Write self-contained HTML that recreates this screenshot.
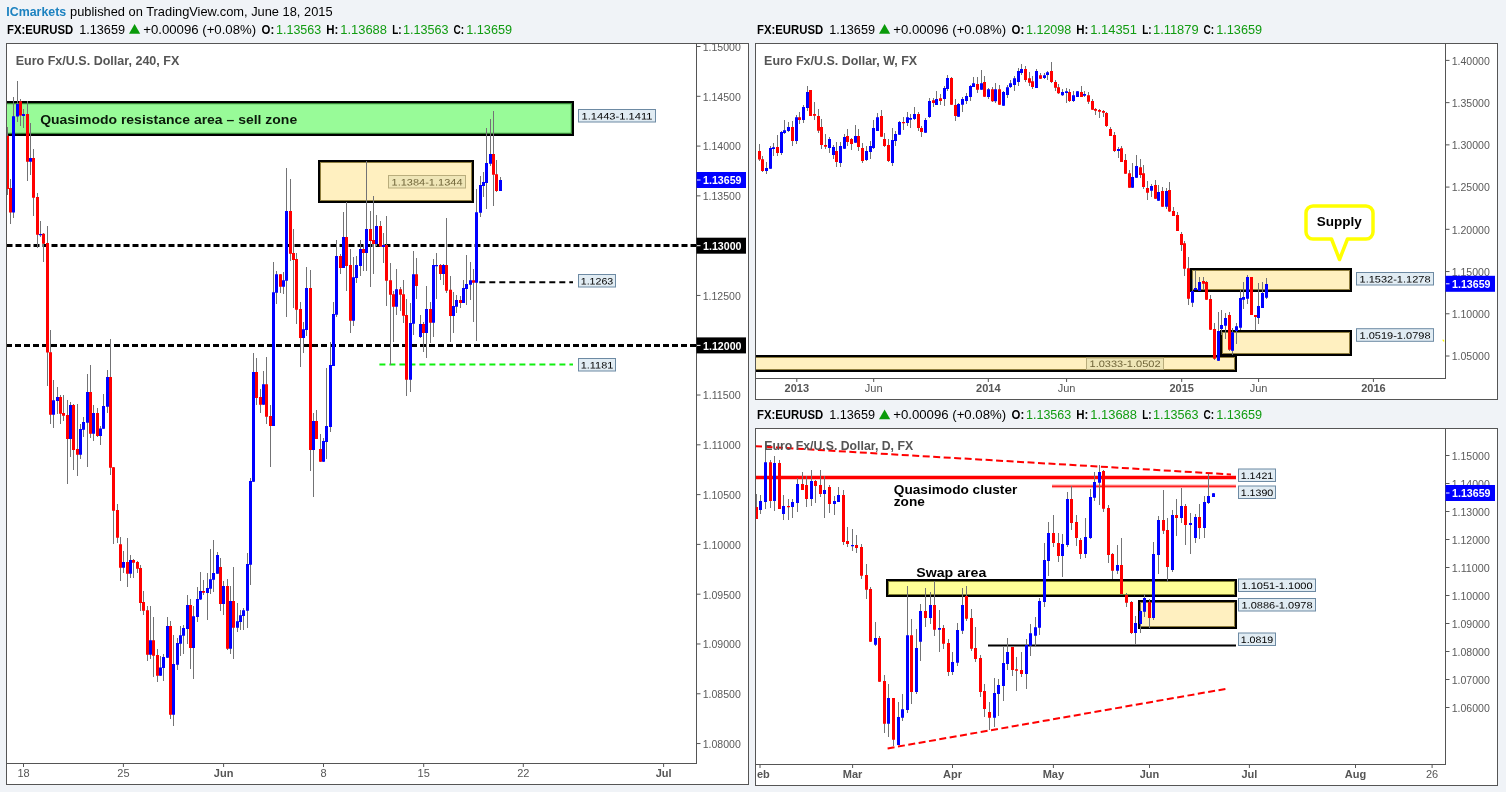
<!DOCTYPE html><html><head><meta charset="utf-8"><title>EURUSD</title><style>html,body{margin:0;padding:0;background:#f0f3f7;overflow:hidden}svg{display:block;will-change:transform;transform:translateZ(0)}</style></head><body><svg width="1506" height="792" viewBox="0 0 1506 792" font-family="Liberation Sans, sans-serif">
<defs>
<clipPath id="c1"><rect x="7" y="44" width="689.5" height="719.5"/></clipPath>
<clipPath id="c2"><rect x="756" y="44" width="689.5" height="334.5"/></clipPath>
<clipPath id="c3"><rect x="756" y="429" width="689.5" height="335.5"/></clipPath>
<clipPath id="t1"><rect x="7" y="764" width="689" height="20"/></clipPath>
<clipPath id="t2"><rect x="756" y="379" width="689" height="20"/></clipPath>
<clipPath id="t3"><rect x="757" y="765" width="689" height="20"/></clipPath>
</defs>
<rect x="0.00" y="0.00" width="1506.00" height="792.00" fill="#f0f3f7" />
<text x="6.3" y="16.0" font-size="13" font-weight="bold" fill="#1c82c0" text-anchor="start" textLength="59.9" lengthAdjust="spacingAndGlyphs" >ICmarkets</text>
<text x="70.0" y="16.0" font-size="13" font-weight="normal" fill="#000" text-anchor="start" textLength="262.6" lengthAdjust="spacingAndGlyphs" >published on TradingView.com, June 18, 2015</text>
<text x="7.0" y="33.8" font-size="12" font-weight="bold" fill="#000" text-anchor="start" textLength="66.2" lengthAdjust="spacingAndGlyphs" >FX:EURUSD</text>
<text x="79.2" y="33.8" font-size="12" font-weight="normal" fill="#000" text-anchor="start" textLength="45.8" lengthAdjust="spacingAndGlyphs" >1.13659</text>
<path d="M129.0 33.8 L140.2 33.8 L134.6 24.0z" fill="#0a9a0a"/>
<text x="143.2" y="33.8" font-size="12" font-weight="normal" fill="#000" text-anchor="start" textLength="113.0" lengthAdjust="spacingAndGlyphs" >+0.00096 (+0.08%)</text>
<text x="261.5" y="33.8" font-size="12" font-weight="bold" fill="#000" text-anchor="start" textLength="12.7" lengthAdjust="spacingAndGlyphs" >O:</text>
<text x="276.0" y="33.8" font-size="12" font-weight="normal" fill="#119c11" text-anchor="start" textLength="45.2" lengthAdjust="spacingAndGlyphs" >1.13563</text>
<text x="326.2" y="33.8" font-size="12" font-weight="bold" fill="#000" text-anchor="start" textLength="12.1" lengthAdjust="spacingAndGlyphs" >H:</text>
<text x="340.2" y="33.8" font-size="12" font-weight="normal" fill="#119c11" text-anchor="start" textLength="46.8" lengthAdjust="spacingAndGlyphs" >1.13688</text>
<text x="392.2" y="33.8" font-size="12" font-weight="bold" fill="#000" text-anchor="start" textLength="9.3" lengthAdjust="spacingAndGlyphs" >L:</text>
<text x="403.0" y="33.8" font-size="12" font-weight="normal" fill="#119c11" text-anchor="start" textLength="45.6" lengthAdjust="spacingAndGlyphs" >1.13563</text>
<text x="453.6" y="33.8" font-size="12" font-weight="bold" fill="#000" text-anchor="start" textLength="10.6" lengthAdjust="spacingAndGlyphs" >C:</text>
<text x="466.2" y="33.8" font-size="12" font-weight="normal" fill="#119c11" text-anchor="start" textLength="45.9" lengthAdjust="spacingAndGlyphs" >1.13659</text>
<text x="757.0" y="33.8" font-size="12" font-weight="bold" fill="#000" text-anchor="start" textLength="66.2" lengthAdjust="spacingAndGlyphs" >FX:EURUSD</text>
<text x="829.2" y="33.8" font-size="12" font-weight="normal" fill="#000" text-anchor="start" textLength="45.8" lengthAdjust="spacingAndGlyphs" >1.13659</text>
<path d="M879.0 33.8 L890.2 33.8 L884.6 24.0z" fill="#0a9a0a"/>
<text x="893.2" y="33.8" font-size="12" font-weight="normal" fill="#000" text-anchor="start" textLength="113.0" lengthAdjust="spacingAndGlyphs" >+0.00096 (+0.08%)</text>
<text x="1011.5" y="33.8" font-size="12" font-weight="bold" fill="#000" text-anchor="start" textLength="12.7" lengthAdjust="spacingAndGlyphs" >O:</text>
<text x="1026.0" y="33.8" font-size="12" font-weight="normal" fill="#119c11" text-anchor="start" textLength="45.2" lengthAdjust="spacingAndGlyphs" >1.12098</text>
<text x="1076.2" y="33.8" font-size="12" font-weight="bold" fill="#000" text-anchor="start" textLength="12.1" lengthAdjust="spacingAndGlyphs" >H:</text>
<text x="1090.2" y="33.8" font-size="12" font-weight="normal" fill="#119c11" text-anchor="start" textLength="46.8" lengthAdjust="spacingAndGlyphs" >1.14351</text>
<text x="1142.2" y="33.8" font-size="12" font-weight="bold" fill="#000" text-anchor="start" textLength="9.3" lengthAdjust="spacingAndGlyphs" >L:</text>
<text x="1153.0" y="33.8" font-size="12" font-weight="normal" fill="#119c11" text-anchor="start" textLength="45.6" lengthAdjust="spacingAndGlyphs" >1.11879</text>
<text x="1203.6" y="33.8" font-size="12" font-weight="bold" fill="#000" text-anchor="start" textLength="10.6" lengthAdjust="spacingAndGlyphs" >C:</text>
<text x="1216.2" y="33.8" font-size="12" font-weight="normal" fill="#119c11" text-anchor="start" textLength="45.9" lengthAdjust="spacingAndGlyphs" >1.13659</text>
<text x="757.0" y="419.3" font-size="12" font-weight="bold" fill="#000" text-anchor="start" textLength="66.2" lengthAdjust="spacingAndGlyphs" >FX:EURUSD</text>
<text x="829.2" y="419.3" font-size="12" font-weight="normal" fill="#000" text-anchor="start" textLength="45.8" lengthAdjust="spacingAndGlyphs" >1.13659</text>
<path d="M879.0 419.3 L890.2 419.3 L884.6 409.5z" fill="#0a9a0a"/>
<text x="893.2" y="419.3" font-size="12" font-weight="normal" fill="#000" text-anchor="start" textLength="113.0" lengthAdjust="spacingAndGlyphs" >+0.00096 (+0.08%)</text>
<text x="1011.5" y="419.3" font-size="12" font-weight="bold" fill="#000" text-anchor="start" textLength="12.7" lengthAdjust="spacingAndGlyphs" >O:</text>
<text x="1026.0" y="419.3" font-size="12" font-weight="normal" fill="#119c11" text-anchor="start" textLength="45.2" lengthAdjust="spacingAndGlyphs" >1.13563</text>
<text x="1076.2" y="419.3" font-size="12" font-weight="bold" fill="#000" text-anchor="start" textLength="12.1" lengthAdjust="spacingAndGlyphs" >H:</text>
<text x="1090.2" y="419.3" font-size="12" font-weight="normal" fill="#119c11" text-anchor="start" textLength="46.8" lengthAdjust="spacingAndGlyphs" >1.13688</text>
<text x="1142.2" y="419.3" font-size="12" font-weight="bold" fill="#000" text-anchor="start" textLength="9.3" lengthAdjust="spacingAndGlyphs" >L:</text>
<text x="1153.0" y="419.3" font-size="12" font-weight="normal" fill="#119c11" text-anchor="start" textLength="45.6" lengthAdjust="spacingAndGlyphs" >1.13563</text>
<text x="1203.6" y="419.3" font-size="12" font-weight="bold" fill="#000" text-anchor="start" textLength="10.6" lengthAdjust="spacingAndGlyphs" >C:</text>
<text x="1216.2" y="419.3" font-size="12" font-weight="normal" fill="#119c11" text-anchor="start" textLength="45.9" lengthAdjust="spacingAndGlyphs" >1.13659</text>
<rect x="6.50" y="43.50" width="742.00" height="741.00" fill="#fff" stroke="#555555" stroke-width="1" shape-rendering="crispEdges"/>
<line x1="696.50" y1="43.50" x2="696.50" y2="763.50" stroke="#555555" stroke-width="1" shape-rendering="crispEdges"/>
<line x1="6.50" y1="763.50" x2="696.50" y2="763.50" stroke="#555555" stroke-width="1" shape-rendering="crispEdges"/>
<rect x="755.50" y="43.50" width="742.00" height="356.00" fill="#fff" stroke="#555555" stroke-width="1" shape-rendering="crispEdges"/>
<line x1="1445.50" y1="43.50" x2="1445.50" y2="378.50" stroke="#555555" stroke-width="1" shape-rendering="crispEdges"/>
<line x1="755.50" y1="378.50" x2="1445.50" y2="378.50" stroke="#555555" stroke-width="1" shape-rendering="crispEdges"/>
<rect x="755.50" y="428.50" width="742.00" height="357.00" fill="#fff" stroke="#555555" stroke-width="1" shape-rendering="crispEdges"/>
<line x1="1445.50" y1="428.50" x2="1445.50" y2="764.50" stroke="#555555" stroke-width="1" shape-rendering="crispEdges"/>
<line x1="755.50" y1="764.50" x2="1445.50" y2="764.50" stroke="#555555" stroke-width="1" shape-rendering="crispEdges"/>
<g clip-path="url(#c1)">
<rect x="1.10" y="102.10" width="571.80" height="32.80" fill="#98fb98" stroke="#000" stroke-width="2.2" />
<rect x="2.70" y="103.70" width="568.60" height="29.60" fill="none" stroke="#0a5a0a" stroke-width="1" opacity="0.75"/>
<rect x="319.00" y="161.00" width="154.00" height="41.00" fill="#fff0c0" stroke="#000" stroke-width="2" />
<rect x="320.50" y="162.50" width="151.00" height="38.00" fill="none" stroke="#6b5a14" stroke-width="1" opacity="0.75"/>
<line x1="6.50" y1="245.60" x2="696.00" y2="245.60" stroke="#000" stroke-width="3" stroke-dasharray="6 3" />
<line x1="6.00" y1="345.40" x2="696.00" y2="345.40" stroke="#000" stroke-width="3" stroke-dasharray="6 3" stroke-dashoffset="-0.0"/>
<line x1="479.30" y1="282.30" x2="573.00" y2="282.30" stroke="#000" stroke-width="2" stroke-dasharray="6 4" />
<line x1="379.40" y1="364.60" x2="573.00" y2="364.60" stroke="#10f010" stroke-width="2" stroke-dasharray="6 4" />
<path d="M7.5 127.0V194.6M10.5 179.0V223.8M13.5 96.9V217.8M17.5 81.0V121.9M20.5 99.0V125.9M23.5 109.3V127.6M27.5 101.3V181.0M30.5 123.2V175.0M33.5 149.1V215.9M37.5 193.0V247.7M40.5 221.2V236.8M43.5 233.0V261.7M47.5 226.1V385.9M50.5 330.0V423.7M53.5 380.3V427.7M57.5 387.2V413.7M60.5 395.2V423.7M63.5 395.2V420.8M67.5 400.2V483.8M70.5 402.2V456.6M73.5 404.2V469.8M77.5 404.2V475.8M80.5 424.4V458.8M83.5 417.3V437.0M87.5 374.2V466.8M90.5 365.0V438.0M93.5 405.1V441.0M97.5 408.0V437.0M100.5 426.4V445.0M103.5 394.2V428.8M107.5 370.2V412.8M110.5 339.0V474.8M113.5 467.2V543.8M117.5 504.0V542.8M120.5 537.2V580.7M123.5 551.1V572.8M127.5 538.1V587.0M130.5 555.1V577.7M133.5 559.0V577.7M137.5 561.0V572.8M140.5 565.0V610.8M143.5 591.0V614.8M147.5 606.0V660.8M150.5 606.2V658.8M153.5 617.2V677.0M157.5 649.0V681.6M160.5 656.0V675.7M163.5 654.0V680.7M167.5 617.2V657.7M170.5 621.2V718.8M173.5 635.2V725.7M177.5 638.2V669.7M180.5 626.1V655.7M183.5 625.2V653.7M187.5 595.0V643.8M190.5 599.0V668.8M193.5 606.0V678.7M197.5 587.0V621.9M200.5 572.1V599.6M203.5 580.0V595.0M207.5 573.0V619.9M210.5 549.1V593.6M213.5 540.1V591.6M217.5 552.2V573.7M220.5 558.0V610.8M223.5 581.0V614.8M227.5 579.0V649.8M230.5 586.0V653.7M233.5 567.0V658.8M237.5 603.0V631.8M240.5 610.2V629.8M243.5 608.2V629.8M247.5 553.1V627.8M250.5 478.0V584.7M253.5 353.0V481.8M256.5 357.9V404.8M260.5 389.1V412.8M263.5 371.2V404.8M266.5 357.0V423.7M270.5 405.0V466.7M273.5 262.0V426.0M276.5 271.0V303.8M280.5 274.2V292.8M283.5 271.9V293.8M286.5 168.0V316.8M290.5 178.9V260.9M293.5 229.1V307.8M296.5 253.0V323.7M300.5 302.2V366.6M303.5 322.1V352.6M306.5 267.0V335.7M310.5 270.0V470.9M313.5 413.0V496.8M316.5 410.1V438.9M320.5 434.0V461.8M323.5 438.0V461.8M326.5 368.2V458.9M330.5 342.0V432.0M333.5 302.2V365.9M336.5 240.0V316.8M340.5 254.0V273.9M343.5 212.1V267.9M346.5 202.1V290.8M350.5 249.0V333.0M353.5 257.0V325.7M356.5 256.0V282.8M360.5 240.0V275.9M363.5 245.0V270.9M366.5 161.0V270.9M370.5 211.0V286.8M373.5 196.2V273.9M376.5 215.0V246.0M380.5 221.0V246.6M383.5 233.1V262.9M386.5 216.1V305.8M390.5 263.0V364.6M393.5 291.2V341.6M396.5 269.0V314.8M400.5 287.2V310.8M403.5 280.3V322.8M406.5 299.1V395.8M410.5 303.1V391.8M413.5 251.0V334.7M416.5 258.0V298.7M420.5 315.1V337.6M423.5 322.0V352.0M426.5 286.1V358.0M430.5 302.2V342.7M433.5 259.0V337.0M436.5 252.9V298.7M440.5 264.0V279.9M443.5 264.0V284.8M446.5 218.2V292.8M450.5 276.2V341.6M453.5 292.2V333.0M456.5 295.2V312.8M460.5 296.1V307.8M463.5 280.3V302.9M466.5 255.0V304.7M470.5 262.0V299.8M473.5 269.0V321.7M476.5 189.0V341.0M480.5 176.0V216.7M483.5 172.0V196.6M486.5 128.2V208.9M490.5 119.2V165.8M493.5 110.9V205.9M496.5 160.1V192.0M500.5 177.0V190.9" stroke="#737375" stroke-width="1" fill="none" shape-rendering="crispEdges"/>
<path d="M12 116.2h3v96.3h-3zM16 103.9h3v12.7h-3zM22 114.0h3v1.9h-3zM29 158.1h3v3.6h-3zM39 234.0h3v1.2h-3zM52 400.2h3v14.6h-3zM56 397.1h3v3.8h-3zM69 405.1h3v33.9h-3zM79 429.0h3v25.8h-3zM82 422.1h3v7.6h-3zM86 392.1h3v30.7h-3zM92 413.1h3v20.6h-3zM99 428.4h3v7.6h-3zM102 406.0h3v22.8h-3zM106 377.0h3v29.8h-3zM122 562.0h3v5.7h-3zM129 560.0h3v13.7h-3zM149 640.2h3v14.6h-3zM159 667.4h3v8.3h-3zM162 657.0h3v11.0h-3zM166 626.1h3v31.6h-3zM172 664.1h3v50.7h-3zM176 643.1h3v21.7h-3zM179 635.2h3v8.6h-3zM182 628.1h3v7.7h-3zM186 605.0h3v23.9h-3zM192 616.2h3v31.8h-3zM196 599.0h3v18.0h-3zM199 591.0h3v8.6h-3zM206 588.0h3v5.0h-3zM209 579.3h3v9.4h-3zM212 573.0h3v6.7h-3zM216 555.1h3v18.6h-3zM222 586.1h3v17.8h-3zM229 601.0h3v47.8h-3zM236 621.2h3v6.6h-3zM239 615.2h3v6.7h-3zM242 610.2h3v5.7h-3zM246 564.1h3v46.7h-3zM249 481.1h3v83.7h-3zM252 371.9h3v109.9h-3zM262 384.2h3v20.6h-3zM272 292.2h3v133.8h-3zM275 274.2h3v18.6h-3zM282 280.3h3v6.5h-3zM285 211.0h3v69.8h-3zM302 329.3h3v8.6h-3zM305 288.1h3v42.0h-3zM312 421.0h3v28.9h-3zM322 441.0h3v20.8h-3zM325 426.0h3v15.9h-3zM329 365.0h3v62.0h-3zM332 314.1h3v51.8h-3zM335 256.0h3v58.8h-3zM342 237.1h3v30.8h-3zM352 277.2h3v43.6h-3zM355 265.0h3v12.9h-3zM359 249.0h3v16.9h-3zM365 229.1h3v23.9h-3zM375 226.0h3v18.0h-3zM382 245.0h3v1.9h-3zM395 289.2h3v17.6h-3zM409 323.0h3v56.8h-3zM412 274.2h3v49.5h-3zM419 324.1h3v12.9h-3zM425 309.1h3v23.9h-3zM432 265.0h3v57.8h-3zM435 265.0h3v1.2h-3zM442 265.0h3v8.9h-3zM452 306.0h3v10.0h-3zM455 300.0h3v6.8h-3zM462 288.1h3v14.8h-3zM465 284.1h3v4.8h-3zM469 280.3h3v4.5h-3zM475 212.2h3v70.6h-3zM479 185.0h3v27.8h-3zM482 182.0h3v4.0h-3zM485 163.1h3v19.8h-3zM489 154.1h3v9.7h-3zM499 180.0h3v10.9h-3z" fill="#0000ff"/>
<path d="M6 135.8h3v53.1h-3zM9 188.0h3v24.5h-3zM19 101.3h3v14.3h-3zM26 114.0h3v47.7h-3zM32 158.1h3v39.6h-3zM36 197.0h3v37.7h-3zM42 233.8h3v9.9h-3zM46 243.1h3v109.5h-3zM49 352.3h3v62.5h-3zM59 397.1h3v16.6h-3zM62 413.1h3v2.6h-3zM66 415.1h3v23.9h-3zM72 405.1h3v44.8h-3zM76 449.0h3v5.8h-3zM89 392.1h3v41.6h-3zM96 413.1h3v22.9h-3zM109 377.0h3v90.8h-3zM112 467.2h3v43.5h-3zM116 510.0h3v27.8h-3zM119 544.2h3v23.5h-3zM126 562.0h3v11.7h-3zM132 560.0h3v2.8h-3zM136 562.0h3v6.8h-3zM139 568.1h3v34.8h-3zM142 602.0h3v8.8h-3zM146 610.2h3v44.6h-3zM152 640.2h3v15.5h-3zM156 655.0h3v20.7h-3zM169 626.1h3v88.7h-3zM189 605.0h3v43.0h-3zM202 591.0h3v1.7h-3zM219 567.1h3v36.8h-3zM226 586.1h3v62.7h-3zM232 601.0h3v26.8h-3zM255 371.9h3v26.1h-3zM259 397.1h3v7.7h-3zM265 384.2h3v32.6h-3zM269 416.1h3v9.9h-3zM279 274.2h3v12.6h-3zM289 211.0h3v42.7h-3zM292 253.0h3v7.0h-3zM295 259.0h3v50.8h-3zM299 309.1h3v28.8h-3zM309 288.1h3v161.8h-3zM315 421.0h3v17.9h-3zM319 449.0h3v12.8h-3zM339 256.0h3v11.9h-3zM345 237.1h3v28.8h-3zM349 265.0h3v55.8h-3zM362 249.0h3v4.0h-3zM369 229.1h3v11.8h-3zM372 240.0h3v4.0h-3zM379 226.0h3v20.6h-3zM385 245.0h3v35.8h-3zM389 280.3h3v14.5h-3zM392 294.2h3v12.6h-3zM399 289.2h3v5.6h-3zM402 294.2h3v21.5h-3zM405 315.1h3v64.7h-3zM415 274.2h3v11.7h-3zM422 324.1h3v8.9h-3zM429 309.1h3v13.7h-3zM439 265.0h3v8.9h-3zM445 265.0h3v25.8h-3zM449 289.8h3v26.2h-3zM459 300.0h3v2.9h-3zM472 280.3h3v2.5h-3zM492 154.1h3v20.6h-3zM495 174.3h3v16.6h-3z" fill="#ff0000"/>
<text x="40.2" y="124.2" font-size="13" font-weight="bold" fill="#0b1a0b" text-anchor="start" textLength="257.0" lengthAdjust="spacingAndGlyphs" >Quasimodo resistance area – sell zone</text>
<rect x="388.50" y="175.50" width="77.00" height="12.50" fill="#efe6b7" stroke="#b9ad7c" stroke-width="1" />
<text transform="translate(427.0 185.5) rotate(0.03) scale(1 0.9)" font-size="10.4" fill="#6f6438" text-anchor="middle" textLength="71.0" lengthAdjust="spacingAndGlyphs">1.1384-1.1344</text>
<rect x="578.50" y="109.50" width="77.00" height="12.50" fill="#e1ecf3" stroke="#6d8aa3" stroke-width="1" />
<text transform="translate(617.0 119.5) rotate(0.03) scale(1 0.9)" font-size="10.4" fill="#000" text-anchor="middle" textLength="71.0" lengthAdjust="spacingAndGlyphs">1.1443-1.1411</text>
<rect x="578.50" y="274.50" width="37.00" height="12.50" fill="#e1ecf3" stroke="#6d8aa3" stroke-width="1" />
<text transform="translate(597.0 284.5) rotate(0.03) scale(1 0.9)" font-size="10.4" fill="#000" text-anchor="middle" textLength="32.5" lengthAdjust="spacingAndGlyphs">1.1263</text>
<rect x="578.50" y="358.50" width="37.00" height="12.50" fill="#e1ecf3" stroke="#6d8aa3" stroke-width="1" />
<text transform="translate(597.0 368.5) rotate(0.03) scale(1 0.9)" font-size="10.4" fill="#000" text-anchor="middle" textLength="32.5" lengthAdjust="spacingAndGlyphs">1.1181</text>
<text x="15.7" y="64.6" font-size="12" font-weight="bold" fill="#555" text-anchor="start" textLength="163.6" lengthAdjust="spacingAndGlyphs" >Euro Fx/U.S. Dollar, 240, FX</text>
</g>
<g clip-path="url(#c1)" transform="translate(0,0)"></g>
<clipPath id="a1"><rect x="697" y="44" width="51" height="719"/></clipPath><g clip-path="url(#a1)">
<line x1="697.00" y1="46.50" x2="700.50" y2="46.50" stroke="#555555" stroke-width="1" />
<text x="702.7" y="50.8" font-size="11" font-weight="normal" fill="#5a5a5a" text-anchor="start" textLength="38.1" lengthAdjust="spacingAndGlyphs" >1.15000</text>
<line x1="697.00" y1="96.29" x2="700.50" y2="96.29" stroke="#555555" stroke-width="1" />
<text x="702.7" y="100.6" font-size="11" font-weight="normal" fill="#5a5a5a" text-anchor="start" textLength="38.1" lengthAdjust="spacingAndGlyphs" >1.14500</text>
<line x1="697.00" y1="146.08" x2="700.50" y2="146.08" stroke="#555555" stroke-width="1" />
<text x="702.7" y="150.4" font-size="11" font-weight="normal" fill="#5a5a5a" text-anchor="start" textLength="38.1" lengthAdjust="spacingAndGlyphs" >1.14000</text>
<line x1="697.00" y1="195.87" x2="700.50" y2="195.87" stroke="#555555" stroke-width="1" />
<text x="702.7" y="200.2" font-size="11" font-weight="normal" fill="#5a5a5a" text-anchor="start" textLength="38.1" lengthAdjust="spacingAndGlyphs" >1.13500</text>
<line x1="697.00" y1="245.66" x2="700.50" y2="245.66" stroke="#555555" stroke-width="1" />
<text x="702.7" y="250.0" font-size="11" font-weight="normal" fill="#5a5a5a" text-anchor="start" textLength="38.1" lengthAdjust="spacingAndGlyphs" >1.13000</text>
<line x1="697.00" y1="295.45" x2="700.50" y2="295.45" stroke="#555555" stroke-width="1" />
<text x="702.7" y="299.8" font-size="11" font-weight="normal" fill="#5a5a5a" text-anchor="start" textLength="38.1" lengthAdjust="spacingAndGlyphs" >1.12500</text>
<line x1="697.00" y1="345.24" x2="700.50" y2="345.24" stroke="#555555" stroke-width="1" />
<text x="702.7" y="349.5" font-size="11" font-weight="normal" fill="#5a5a5a" text-anchor="start" textLength="38.1" lengthAdjust="spacingAndGlyphs" >1.12000</text>
<line x1="697.00" y1="395.03" x2="700.50" y2="395.03" stroke="#555555" stroke-width="1" />
<text x="702.7" y="399.3" font-size="11" font-weight="normal" fill="#5a5a5a" text-anchor="start" textLength="38.1" lengthAdjust="spacingAndGlyphs" >1.11500</text>
<line x1="697.00" y1="444.82" x2="700.50" y2="444.82" stroke="#555555" stroke-width="1" />
<text x="702.7" y="449.1" font-size="11" font-weight="normal" fill="#5a5a5a" text-anchor="start" textLength="38.1" lengthAdjust="spacingAndGlyphs" >1.11000</text>
<line x1="697.00" y1="494.61" x2="700.50" y2="494.61" stroke="#555555" stroke-width="1" />
<text x="702.7" y="498.9" font-size="11" font-weight="normal" fill="#5a5a5a" text-anchor="start" textLength="38.1" lengthAdjust="spacingAndGlyphs" >1.10500</text>
<line x1="697.00" y1="544.40" x2="700.50" y2="544.40" stroke="#555555" stroke-width="1" />
<text x="702.7" y="548.7" font-size="11" font-weight="normal" fill="#5a5a5a" text-anchor="start" textLength="38.1" lengthAdjust="spacingAndGlyphs" >1.10000</text>
<line x1="697.00" y1="594.19" x2="700.50" y2="594.19" stroke="#555555" stroke-width="1" />
<text x="702.7" y="598.5" font-size="11" font-weight="normal" fill="#5a5a5a" text-anchor="start" textLength="38.1" lengthAdjust="spacingAndGlyphs" >1.09500</text>
<line x1="697.00" y1="643.98" x2="700.50" y2="643.98" stroke="#555555" stroke-width="1" />
<text x="702.7" y="648.3" font-size="11" font-weight="normal" fill="#5a5a5a" text-anchor="start" textLength="38.1" lengthAdjust="spacingAndGlyphs" >1.09000</text>
<line x1="697.00" y1="693.77" x2="700.50" y2="693.77" stroke="#555555" stroke-width="1" />
<text x="702.7" y="698.1" font-size="11" font-weight="normal" fill="#5a5a5a" text-anchor="start" textLength="38.1" lengthAdjust="spacingAndGlyphs" >1.08500</text>
<line x1="697.00" y1="743.56" x2="700.50" y2="743.56" stroke="#555555" stroke-width="1" />
<text x="702.7" y="747.9" font-size="11" font-weight="normal" fill="#5a5a5a" text-anchor="start" textLength="38.1" lengthAdjust="spacingAndGlyphs" >1.08000</text>
</g>
<rect x="696.50" y="237.70" width="49.50" height="16.00" fill="#000" />
<line x1="697.00" y1="245.70" x2="700.50" y2="245.70" stroke="#fff" stroke-width="1" />
<text x="703.0" y="249.9" font-size="11" font-weight="bold" fill="#fff" text-anchor="start" textLength="38.5" lengthAdjust="spacingAndGlyphs" >1.13000</text>
<rect x="696.50" y="337.40" width="49.50" height="16.00" fill="#000" />
<line x1="697.00" y1="345.40" x2="700.50" y2="345.40" stroke="#fff" stroke-width="1" />
<text x="703.0" y="349.6" font-size="11" font-weight="bold" fill="#fff" text-anchor="start" textLength="38.5" lengthAdjust="spacingAndGlyphs" >1.12000</text>
<rect x="696.50" y="172.00" width="49.50" height="16.00" fill="#0000ff" />
<line x1="697.00" y1="180.00" x2="700.50" y2="180.00" stroke="#fff" stroke-width="1" />
<text x="703.0" y="184.2" font-size="11" font-weight="bold" fill="#fff" text-anchor="start" textLength="38.5" lengthAdjust="spacingAndGlyphs" >1.13659</text>
<g clip-path="url(#t1)">
<line x1="23.50" y1="764.00" x2="23.50" y2="767.00" stroke="#555555" stroke-width="1" />
<text x="23.5" y="777.2" font-size="11" font-weight="normal" fill="#555" text-anchor="middle" >18</text>
<line x1="123.40" y1="764.00" x2="123.40" y2="767.00" stroke="#555555" stroke-width="1" />
<text x="123.4" y="777.2" font-size="11" font-weight="normal" fill="#555" text-anchor="middle" >25</text>
<line x1="223.60" y1="764.00" x2="223.60" y2="767.00" stroke="#555555" stroke-width="1" />
<text x="223.6" y="777.2" font-size="11" font-weight="bold" fill="#555" text-anchor="middle" >Jun</text>
<line x1="323.50" y1="764.00" x2="323.50" y2="767.00" stroke="#555555" stroke-width="1" />
<text x="323.5" y="777.2" font-size="11" font-weight="normal" fill="#555" text-anchor="middle" >8</text>
<line x1="423.70" y1="764.00" x2="423.70" y2="767.00" stroke="#555555" stroke-width="1" />
<text x="423.7" y="777.2" font-size="11" font-weight="normal" fill="#555" text-anchor="middle" >15</text>
<line x1="523.30" y1="764.00" x2="523.30" y2="767.00" stroke="#555555" stroke-width="1" />
<text x="523.3" y="777.2" font-size="11" font-weight="normal" fill="#555" text-anchor="middle" >22</text>
<line x1="663.60" y1="764.00" x2="663.60" y2="767.00" stroke="#555555" stroke-width="1" />
<text x="663.6" y="777.2" font-size="11" font-weight="bold" fill="#555" text-anchor="middle" >Jul</text>
</g>
<g clip-path="url(#c2)">
<rect x="1191.00" y="269.00" width="160.00" height="22.00" fill="#fff0c0" stroke="#000" stroke-width="2" />
<rect x="1192.50" y="270.50" width="157.00" height="19.00" fill="none" stroke="#6b5a14" stroke-width="1" opacity="0.75"/>
<rect x="1221.00" y="331.00" width="130.00" height="24.00" fill="#fff0c0" stroke="#000" stroke-width="2" />
<rect x="1222.50" y="332.50" width="127.00" height="21.00" fill="none" stroke="#6b5a14" stroke-width="1" opacity="0.75"/>
<rect x="741.00" y="356.00" width="495.00" height="15.00" fill="#fff0c0" stroke="#000" stroke-width="2" />
<rect x="742.50" y="357.50" width="492.00" height="12.00" fill="none" stroke="#6b5a14" stroke-width="1" opacity="0.75"/>
<path d="M759.5 144.1V160.7M762.5 156.4V171.9M766.5 162.1V174.0M770.5 146.0V169.0M773.5 143.1V155.7M777.5 135.1V156.0M781.5 131.1V155.0M784.5 120.1V133.8M788.5 122.2V131.8M792.5 121.2V145.7M796.5 115.2V143.7M799.5 112.3V123.8M803.5 105.2V122.8M807.5 86.0V110.8M810.5 90.0V115.9M814.5 101.9V119.8M818.5 109.0V132.9M821.5 119.2V148.8M825.5 134.1V148.8M829.5 137.1V152.8M833.5 145.1V158.8M836.5 142.0V167.0M840.5 142.0V167.0M844.5 134.1V149.1M847.5 129.1V146.0M851.5 138.0V150.0M855.5 125.2V143.1M858.5 129.1V150.8M862.5 143.1V163.0M866.5 146.0V160.7M870.5 141.1V159.0M873.5 120.1V148.8M877.5 113.2V131.1M881.5 110.3V137.1M884.5 133.1V147.1M888.5 139.1V161.9M892.5 128.1V165.9M895.5 131.1V146.0M899.5 121.2V135.1M903.5 117.2V130.1M907.5 112.3V125.8M910.5 114.1V127.8M914.5 107.2V119.8M918.5 112.3V130.9M921.5 126.1V137.1M925.5 118.1V133.1M929.5 97.9V117.8M933.5 97.9V107.0M936.5 91.0V105.2M940.5 93.9V105.0M944.5 86.0V105.9M947.5 75.0V90.8M951.5 77.2V104.7M955.5 99.1V120.8M958.5 103.1V116.8M962.5 97.1V111.8M966.5 93.2V103.8M970.5 85.2V100.9M973.5 77.2V87.2M977.5 77.2V92.8M981.5 70.2V89.8M984.5 76.2V96.9M988.5 88.1V98.9M992.5 87.2V102.1M995.5 83.2V102.9M999.5 85.2V104.7M1003.5 91.2V105.8M1007.5 85.2V97.8M1010.5 80.3V87.8M1014.5 76.2V90.8M1018.5 67.9V85.9M1021.5 63.9V75.0M1025.5 65.9V81.9M1029.5 71.9V85.9M1032.5 76.2V88.9M1036.5 69.0V87.8M1040.5 73.0V78.8M1044.5 73.2V78.8M1047.5 71.0V79.9M1051.5 62.0V82.8M1055.5 80.3V90.8M1058.5 84.1V93.8M1062.5 89.2V96.1M1066.5 88.1V102.9M1069.5 89.2V101.8M1073.5 91.2V101.8M1077.5 91.2V96.9M1081.5 86.1V96.9M1084.5 91.2V96.9M1088.5 92.1V103.8M1092.5 99.1V109.8M1095.5 108.0V115.1M1099.5 109.1V118.0M1103.5 110.0V116.8M1106.5 112.0V126.8M1110.5 127.0V135.9M1114.5 132.0V151.9M1118.5 147.0V157.9M1121.5 145.9V161.9M1125.5 154.2V173.8M1129.5 170.1V187.8M1132.5 163.2V187.8M1136.5 155.0V177.8M1140.5 159.0V177.8M1143.5 165.2V188.8M1147.5 181.1V199.7M1151.5 184.1V196.8M1155.5 180.1V198.8M1158.5 185.1V200.8M1162.5 187.1V206.8M1166.5 188.0V209.0M1169.5 182.1V211.7M1173.5 207.0V215.9M1177.5 212.1V230.9M1181.5 232.0V250.9M1184.5 240.9V275.9M1188.5 257.1V304.7M1192.5 278.8V306.7M1195.5 270.2V290.1M1199.5 277.1V291.0M1203.5 277.1V290.1M1206.5 281.0V299.8M1210.5 295.0V329.8M1214.5 323.2V359.8M1218.5 312.0V360.7M1221.5 310.0V334.8M1225.5 312.9V338.8M1229.5 312.0V350.8M1232.5 328.2V354.8M1236.5 323.2V343.9M1240.5 290.1V330.2M1243.5 282.1V308.9M1247.5 275.1V304.0M1251.5 277.1V314.9M1255.5 314.9V330.2M1258.5 283.0V323.8M1262.5 282.1V308.0M1266.5 278.1V298.7" stroke="#737375" stroke-width="1" fill="none" shape-rendering="crispEdges"/>
<path d="M765 168.0h3v2.9h-3zM769 148.1h3v20.6h-3zM772 147.3h3v1.7h-3zM780 132.1h3v21.0h-3zM783 130.2h3v2.9h-3zM787 127.1h3v4.0h-3zM795 117.2h3v23.9h-3zM802 107.0h3v12.9h-3zM806 92.0h3v15.9h-3zM828 139.1h3v8.9h-3zM832 147.1h3v8.0h-3zM839 146.0h3v17.0h-3zM843 137.1h3v11.7h-3zM854 136.0h3v6.8h-3zM865 151.0h3v9.0h-3zM869 146.0h3v6.0h-3zM872 128.1h3v19.9h-3zM876 117.2h3v13.7h-3zM891 140.0h3v23.0h-3zM894 134.1h3v7.0h-3zM898 122.1h3v12.6h-3zM906 117.2h3v5.7h-3zM909 118.1h3v1.7h-3zM913 114.1h3v5.0h-3zM924 120.1h3v12.7h-3zM928 101.0h3v15.9h-3zM935 99.0h3v6.0h-3zM943 88.0h3v11.0h-3zM946 77.9h3v11.0h-3zM957 104.1h3v12.7h-3zM961 99.1h3v5.6h-3zM965 96.1h3v4.8h-3zM969 86.1h3v10.8h-3zM972 83.2h3v3.7h-3zM980 83.2h3v6.6h-3zM987 89.2h3v7.7h-3zM994 89.2h3v12.0h-3zM1002 92.1h3v13.7h-3zM1006 87.2h3v7.7h-3zM1009 83.2h3v3.7h-3zM1013 78.2h3v6.8h-3zM1017 71.0h3v10.9h-3zM1020 69.0h3v4.0h-3zM1035 71.0h3v16.9h-3zM1043 75.2h3v2.7h-3zM1046 72.2h3v2.8h-3zM1061 92.1h3v3.1h-3zM1065 91.2h3v1.7h-3zM1072 95.2h3v5.7h-3zM1076 91.2h3v5.7h-3zM1083 94.1h3v1.7h-3zM1117 149.0h3v2.0h-3zM1131 177.1h3v10.6h-3zM1135 166.1h3v11.7h-3zM1150 186.0h3v4.8h-3zM1157 192.0h3v8.8h-3zM1165 191.1h3v15.7h-3zM1191 291.0h3v11.7h-3zM1194 288.1h3v2.0h-3zM1198 282.1h3v8.9h-3zM1217 330.9h3v29.8h-3zM1220 325.1h3v4.0h-3zM1224 318.0h3v7.8h-3zM1231 332.2h3v18.6h-3zM1235 326.2h3v4.7h-3zM1239 298.0h3v29.8h-3zM1242 297.1h3v2.6h-3zM1246 277.1h3v21.6h-3zM1257 306.0h3v12.0h-3zM1261 293.0h3v15.0h-3zM1265 284.1h3v13.7h-3z" fill="#0000ff"/>
<path d="M758 151.0h3v8.6h-3zM761 159.3h3v11.7h-3zM776 147.1h3v6.0h-3zM791 127.1h3v13.9h-3zM798 117.2h3v2.7h-3zM809 90.0h3v25.9h-3zM813 114.1h3v1.7h-3zM817 116.1h3v14.7h-3zM820 127.1h3v17.9h-3zM824 145.1h3v1.7h-3zM835 151.0h3v10.9h-3zM846 136.0h3v6.0h-3zM850 139.1h3v4.9h-3zM857 136.0h3v11.0h-3zM861 148.0h3v13.0h-3zM880 116.1h3v20.7h-3zM883 139.1h3v6.9h-3zM887 145.1h3v15.9h-3zM902 122.1h3v1.2h-3zM917 114.1h3v13.9h-3zM920 128.1h3v4.0h-3zM932 100.2h3v2.8h-3zM939 98.2h3v2.8h-3zM950 77.9h3v26.8h-3zM954 105.1h3v10.9h-3zM976 84.1h3v5.7h-3zM983 82.1h3v14.7h-3zM991 89.2h3v12.0h-3zM998 89.2h3v15.5h-3zM1024 69.0h3v10.9h-3zM1028 78.2h3v4.6h-3zM1031 81.2h3v5.7h-3zM1039 75.2h3v3.6h-3zM1050 71.0h3v10.9h-3zM1054 82.1h3v5.7h-3zM1057 87.2h3v6.0h-3zM1068 92.1h3v8.8h-3zM1080 92.1h3v4.8h-3zM1087 95.2h3v6.6h-3zM1091 101.1h3v8.6h-3zM1094 109.1h3v1.7h-3zM1098 110.0h3v1.7h-3zM1102 111.1h3v1.7h-3zM1105 113.1h3v12.9h-3zM1109 129.0h3v6.9h-3zM1113 135.0h3v15.9h-3zM1120 148.2h3v13.7h-3zM1124 160.1h3v13.7h-3zM1128 173.2h3v14.6h-3zM1139 167.2h3v7.7h-3zM1142 173.2h3v13.7h-3zM1146 188.0h3v4.8h-3zM1154 185.1h3v13.7h-3zM1161 191.1h3v15.7h-3zM1168 190.0h3v21.6h-3zM1172 211.0h3v4.9h-3zM1176 215.0h3v15.9h-3zM1180 234.0h3v10.9h-3zM1183 243.2h3v25.6h-3zM1187 268.2h3v30.5h-3zM1202 281.0h3v2.8h-3zM1205 282.1h3v17.7h-3zM1209 299.1h3v30.7h-3zM1213 329.1h3v29.6h-3zM1228 314.9h3v34.8h-3zM1250 277.1h3v37.8h-3zM1254 314.9h3v2.0h-3z" fill="#ff0000"/>
<rect x="1086.50" y="358.00" width="77.00" height="11.50" fill="#efe6b7" stroke="#b9ad7c" stroke-width="1" />
<text transform="translate(1125.0 367.0) rotate(0.03) scale(1 0.9)" font-size="10.4" fill="#6f6438" text-anchor="middle" textLength="71.0" lengthAdjust="spacingAndGlyphs">1.0333-1.0502</text>
<rect x="1356.50" y="272.50" width="77.00" height="12.50" fill="#e1ecf3" stroke="#6d8aa3" stroke-width="1" />
<text transform="translate(1395.0 282.5) rotate(0.03) scale(1 0.9)" font-size="10.4" fill="#000" text-anchor="middle" textLength="71.0" lengthAdjust="spacingAndGlyphs">1.1532-1.1278</text>
<rect x="1356.50" y="328.70" width="77.00" height="12.60" fill="#e1ecf3" stroke="#6d8aa3" stroke-width="1" />
<text transform="translate(1395.0 338.8) rotate(0.03) scale(1 0.9)" font-size="10.4" fill="#000" text-anchor="middle" textLength="71.0" lengthAdjust="spacingAndGlyphs">1.0519-1.0798</text>
<path d="M1313 206 H1366 a7 7 0 0 1 7 7 V232 a7 7 0 0 1 -7 7 H1347.5 L1339.5 259.5 L1331.5 239 H1313 a7 7 0 0 1 -7 -7 V213 a7 7 0 0 1 7 -7z" fill="#fff" stroke="#ffff00" stroke-width="3.5" stroke-linejoin="round"/>
<text x="1339.3" y="225.6" font-size="13" font-weight="bold" fill="#000" text-anchor="middle" textLength="45.0" lengthAdjust="spacingAndGlyphs" >Supply</text>
<text x="764.1" y="64.6" font-size="12" font-weight="bold" fill="#555" text-anchor="start" textLength="153.0" lengthAdjust="spacingAndGlyphs" >Euro Fx/U.S. Dollar, W, FX</text>
</g>
<line x1="1446.00" y1="60.40" x2="1449.50" y2="60.40" stroke="#555555" stroke-width="1" />
<text x="1451.7" y="64.7" font-size="11" font-weight="normal" fill="#5a5a5a" text-anchor="start" textLength="38.1" lengthAdjust="spacingAndGlyphs" >1.40000</text>
<line x1="1446.00" y1="102.63" x2="1449.50" y2="102.63" stroke="#555555" stroke-width="1" />
<text x="1451.7" y="106.9" font-size="11" font-weight="normal" fill="#5a5a5a" text-anchor="start" textLength="38.1" lengthAdjust="spacingAndGlyphs" >1.35000</text>
<line x1="1446.00" y1="144.86" x2="1449.50" y2="144.86" stroke="#555555" stroke-width="1" />
<text x="1451.7" y="149.2" font-size="11" font-weight="normal" fill="#5a5a5a" text-anchor="start" textLength="38.1" lengthAdjust="spacingAndGlyphs" >1.30000</text>
<line x1="1446.00" y1="187.09" x2="1449.50" y2="187.09" stroke="#555555" stroke-width="1" />
<text x="1451.7" y="191.4" font-size="11" font-weight="normal" fill="#5a5a5a" text-anchor="start" textLength="38.1" lengthAdjust="spacingAndGlyphs" >1.25000</text>
<line x1="1446.00" y1="229.32" x2="1449.50" y2="229.32" stroke="#555555" stroke-width="1" />
<text x="1451.7" y="233.6" font-size="11" font-weight="normal" fill="#5a5a5a" text-anchor="start" textLength="38.1" lengthAdjust="spacingAndGlyphs" >1.20000</text>
<line x1="1446.00" y1="271.55" x2="1449.50" y2="271.55" stroke="#555555" stroke-width="1" />
<text x="1451.7" y="275.8" font-size="11" font-weight="normal" fill="#5a5a5a" text-anchor="start" textLength="38.1" lengthAdjust="spacingAndGlyphs" >1.15000</text>
<line x1="1446.00" y1="313.78" x2="1449.50" y2="313.78" stroke="#555555" stroke-width="1" />
<text x="1451.7" y="318.1" font-size="11" font-weight="normal" fill="#5a5a5a" text-anchor="start" textLength="38.1" lengthAdjust="spacingAndGlyphs" >1.10000</text>
<line x1="1446.00" y1="356.01" x2="1449.50" y2="356.01" stroke="#555555" stroke-width="1" />
<text x="1451.7" y="360.3" font-size="11" font-weight="normal" fill="#5a5a5a" text-anchor="start" textLength="38.1" lengthAdjust="spacingAndGlyphs" >1.05000</text>
<rect x="1445.50" y="275.80" width="49.50" height="16.00" fill="#0000ff" />
<line x1="1446.00" y1="283.80" x2="1449.50" y2="283.80" stroke="#fff" stroke-width="1" />
<text x="1452.0" y="288.0" font-size="11" font-weight="bold" fill="#fff" text-anchor="start" textLength="38.5" lengthAdjust="spacingAndGlyphs" >1.13659</text>
<path d="M1442 339.8h2.2v2.4z" fill="#ffff00"/>
<g clip-path="url(#t2)">
<line x1="796.80" y1="379.00" x2="796.80" y2="382.00" stroke="#555555" stroke-width="1" />
<text x="796.8" y="392.2" font-size="11" font-weight="bold" fill="#555" text-anchor="middle" >2013</text>
<line x1="873.70" y1="379.00" x2="873.70" y2="382.00" stroke="#555555" stroke-width="1" />
<text x="873.7" y="392.2" font-size="11" font-weight="normal" fill="#555" text-anchor="middle" >Jun</text>
<line x1="988.30" y1="379.00" x2="988.30" y2="382.00" stroke="#555555" stroke-width="1" />
<text x="988.3" y="392.2" font-size="11" font-weight="bold" fill="#555" text-anchor="middle" >2014</text>
<line x1="1066.60" y1="379.00" x2="1066.60" y2="382.00" stroke="#555555" stroke-width="1" />
<text x="1066.6" y="392.2" font-size="11" font-weight="normal" fill="#555" text-anchor="middle" >Jun</text>
<line x1="1181.70" y1="379.00" x2="1181.70" y2="382.00" stroke="#555555" stroke-width="1" />
<text x="1181.7" y="392.2" font-size="11" font-weight="bold" fill="#555" text-anchor="middle" >2015</text>
<line x1="1258.60" y1="379.00" x2="1258.60" y2="382.00" stroke="#555555" stroke-width="1" />
<text x="1258.6" y="392.2" font-size="11" font-weight="normal" fill="#555" text-anchor="middle" >Jun</text>
<line x1="1373.40" y1="379.00" x2="1373.40" y2="382.00" stroke="#555555" stroke-width="1" />
<text x="1373.4" y="392.2" font-size="11" font-weight="bold" fill="#555" text-anchor="middle" >2016</text>
</g>
<g clip-path="url(#c3)">
<rect x="887.00" y="580.00" width="349.00" height="16.00" fill="#ffff96" stroke="#000" stroke-width="2" />
<rect x="888.50" y="581.50" width="346.00" height="13.00" fill="none" stroke="#5a5a10" stroke-width="1" opacity="0.75"/>
<rect x="1139.00" y="601.00" width="97.00" height="27.00" fill="#fff0c0" stroke="#000" stroke-width="2" />
<rect x="1140.50" y="602.50" width="94.00" height="24.00" fill="none" stroke="#6b5a14" stroke-width="1" opacity="0.75"/>
<line x1="988.00" y1="645.50" x2="1236.00" y2="645.50" stroke="#000" stroke-width="2" />
<line x1="755.00" y1="477.50" x2="1236.00" y2="477.50" stroke="#ff0000" stroke-width="3.3" />
<line x1="1052.00" y1="486.30" x2="1236.00" y2="486.30" stroke="#ff2020" stroke-width="2" />
<line x1="1052.00" y1="485.00" x2="1236.00" y2="485.00" stroke="#ff9090" stroke-width="0.8" />
<line x1="1052.00" y1="487.60" x2="1236.00" y2="487.60" stroke="#ff9090" stroke-width="0.8" />
<line x1="755.00" y1="446.20" x2="1231.00" y2="474.40" stroke="#ff0000" stroke-width="2" stroke-dasharray="7 3.5" />
<line x1="887.60" y1="748.40" x2="1228.00" y2="688.50" stroke="#ff0000" stroke-width="2" stroke-dasharray="7 3.5" />
<path d="M756.5 494.1V519.0M760.5 495.0V514.0M765.5 442.0V508.9M770.5 460.2V508.0M774.5 456.2V510.9M779.5 460.2V508.9M783.5 495.0V520.0M788.5 499.0V520.0M792.5 499.0V518.0M797.5 478.1V512.0M802.5 472.1V490.1M806.5 476.1V506.9M811.5 470.2V506.0M815.5 480.1V503.0M820.5 470.2V497.1M824.5 476.1V518.0M829.5 485.0V512.9M834.5 496.0V514.9M838.5 487.0V502.0M843.5 490.1V544.8M847.5 527.0V547.0M852.5 529.0V550.8M856.5 535.0V552.8M861.5 544.2V578.8M866.5 564.1V598.8M870.5 587.1V641.8M875.5 622.1V645.8M879.5 636.1V681.6M884.5 675.0V732.8M888.5 683.9V736.8M893.5 697.9V746.0M898.5 702.1V745.0M902.5 694.2V720.9M907.5 586.0V712.8M911.5 619.2V703.9M916.5 629.2V693.9M920.5 603.9V660.8M925.5 588.0V626.8M930.5 592.0V623.9M934.5 581.1V635.8M939.5 609.9V651.8M943.5 625.2V648.8M948.5 639.1V675.9M952.5 652.0V675.0M957.5 623.2V666.0M962.5 588.0V633.8M966.5 586.0V620.8M971.5 609.0V651.1M975.5 627.2V661.7M980.5 655.1V697.0M984.5 683.9V716.9M989.5 702.1V729.8M994.5 678.0V726.8M998.5 679.0V715.8M1003.5 647.1V700.8M1007.5 638.1V669.7M1012.5 647.1V675.9M1016.5 657.1V690.9M1021.5 652.0V677.0M1026.5 639.1V688.9M1030.5 624.1V656.0M1035.5 617.0V645.8M1039.5 598.0V634.9M1044.5 542.9V606.8M1048.5 522.1V575.9M1053.5 515.1V546.9M1058.5 533.0V561.9M1062.5 533.9V576.8M1067.5 492.1V546.9M1071.5 486.1V530.1M1076.5 515.1V545.9M1080.5 537.9V559.0M1085.5 518.0V557.9M1090.5 489.2V538.7M1094.5 471.9V500.9M1099.5 465.0V504.7M1103.5 469.9V511.8M1108.5 505.1V563.0M1112.5 552.9V579.2M1117.5 545.0V573.9M1121.5 537.9V594.7M1126.5 593.1V606.8M1131.5 601.1V634.0M1135.5 616.0V644.2M1140.5 608.0V633.0M1144.5 594.1V616.8M1149.5 599.1V627.9M1153.5 542.0V620.1M1158.5 516.0V573.9M1163.5 490.1V533.9M1167.5 518.0V581.8M1172.5 510.0V571.9M1176.5 499.1V535.9M1181.5 488.1V523.0M1185.5 504.1V545.0M1190.5 513.1V553.9M1195.5 514.0V543.0M1199.5 504.1V539.0M1204.5 496.1V537.9M1208.5 473.9V503.8M1213.5 493.2V496.9" stroke="#737375" stroke-width="1" fill="none" shape-rendering="crispEdges"/>
<path d="M759 501.0h3v9.0h-3zM764 462.2h3v39.8h-3zM773 463.1h3v37.8h-3zM782 506.0h3v8.0h-3zM791 502.0h3v4.9h-3zM796 484.1h3v18.9h-3zM810 481.0h3v17.9h-3zM823 490.1h3v4.0h-3zM833 501.0h3v3.1h-3zM837 495.0h3v7.0h-3zM851 545.0h3v1.2h-3zM874 638.1h3v6.6h-3zM887 697.9h3v25.9h-3zM897 716.9h3v28.2h-3zM901 709.2h3v8.6h-3zM906 635.2h3v74.7h-3zM915 648.0h3v43.9h-3zM919 611.0h3v30.8h-3zM929 605.0h3v12.9h-3zM938 628.1h3v1.7h-3zM951 662.1h3v9.8h-3zM956 630.1h3v32.7h-3zM961 605.0h3v25.8h-3zM993 693.0h3v24.8h-3zM997 685.0h3v8.9h-3zM1002 663.0h3v22.9h-3zM1006 652.0h3v12.0h-3zM1025 645.1h3v28.8h-3zM1029 633.2h3v12.6h-3zM1034 627.2h3v8.6h-3zM1038 601.0h3v26.8h-3zM1043 559.9h3v42.1h-3zM1047 533.0h3v28.0h-3zM1061 544.0h3v11.9h-3zM1066 499.1h3v45.8h-3zM1084 537.0h3v17.0h-3zM1089 497.1h3v40.8h-3zM1093 482.1h3v15.7h-3zM1098 471.9h3v10.9h-3zM1116 565.0h3v5.8h-3zM1134 623.0h3v10.0h-3zM1139 611.0h3v12.9h-3zM1143 598.0h3v13.7h-3zM1152 553.9h3v64.0h-3zM1157 520.0h3v35.0h-3zM1171 515.1h3v54.8h-3zM1180 506.0h3v12.0h-3zM1189 523.0h3v2.0h-3zM1194 517.1h3v20.8h-3zM1203 502.1h3v25.9h-3zM1207 496.1h3v6.8h-3zM1212 493.2h3v3.7h-3z" fill="#0000ff"/>
<path d="M755 506.9h3v12.1h-3zM769 462.2h3v38.8h-3zM778 463.1h3v45.8h-3zM787 506.0h3v1.2h-3zM801 484.1h3v6.0h-3zM805 485.0h3v13.9h-3zM814 481.0h3v5.0h-3zM819 485.0h3v9.0h-3zM828 487.0h3v17.0h-3zM842 495.0h3v46.9h-3zM846 541.0h3v2.9h-3zM855 545.0h3v2.9h-3zM860 547.0h3v28.8h-3zM865 575.1h3v14.6h-3zM869 589.1h3v52.7h-3zM878 638.1h3v43.6h-3zM883 681.0h3v42.8h-3zM892 697.9h3v41.8h-3zM910 635.2h3v56.8h-3zM924 611.0h3v6.9h-3zM933 605.0h3v24.8h-3zM942 628.1h3v15.7h-3zM947 643.1h3v28.8h-3zM965 596.0h3v22.8h-3zM970 617.9h3v30.9h-3zM974 648.0h3v11.0h-3zM979 658.0h3v33.9h-3zM983 691.0h3v17.9h-3zM988 712.1h3v5.7h-3zM1011 647.1h3v23.0h-3zM1015 669.3h3v1.5h-3zM1020 670.1h3v3.9h-3zM1052 533.0h3v10.0h-3zM1057 543.0h3v13.0h-3zM1070 499.1h3v23.9h-3zM1075 522.1h3v15.8h-3zM1079 540.0h3v13.9h-3zM1102 471.0h3v37.8h-3zM1107 508.0h3v47.0h-3zM1111 553.9h3v16.9h-3zM1120 565.0h3v29.1h-3zM1125 595.1h3v7.7h-3zM1130 602.0h3v30.9h-3zM1148 602.0h3v15.9h-3zM1162 520.0h3v10.8h-3zM1166 530.1h3v36.9h-3zM1175 515.1h3v2.9h-3zM1184 506.0h3v19.0h-3zM1198 517.1h3v10.9h-3z" fill="#ff0000"/>
<rect x="1238.50" y="469.00" width="37.00" height="12.50" fill="#e1ecf3" stroke="#6d8aa3" stroke-width="1" />
<text transform="translate(1257.0 479.0) rotate(0.03) scale(1 0.9)" font-size="10.4" fill="#000" text-anchor="middle" textLength="32.5" lengthAdjust="spacingAndGlyphs">1.1421</text>
<rect x="1238.50" y="486.00" width="37.00" height="12.50" fill="#e1ecf3" stroke="#6d8aa3" stroke-width="1" />
<text transform="translate(1257.0 496.0) rotate(0.03) scale(1 0.9)" font-size="10.4" fill="#000" text-anchor="middle" textLength="32.5" lengthAdjust="spacingAndGlyphs">1.1390</text>
<rect x="1238.50" y="579.00" width="77.00" height="12.50" fill="#e1ecf3" stroke="#6d8aa3" stroke-width="1" />
<text transform="translate(1277.0 589.0) rotate(0.03) scale(1 0.9)" font-size="10.4" fill="#000" text-anchor="middle" textLength="71.0" lengthAdjust="spacingAndGlyphs">1.1051-1.1000</text>
<rect x="1238.50" y="598.50" width="77.00" height="12.50" fill="#e1ecf3" stroke="#6d8aa3" stroke-width="1" />
<text transform="translate(1277.0 608.5) rotate(0.03) scale(1 0.9)" font-size="10.4" fill="#000" text-anchor="middle" textLength="71.0" lengthAdjust="spacingAndGlyphs">1.0886-1.0978</text>
<rect x="1238.50" y="633.00" width="37.00" height="12.50" fill="#e1ecf3" stroke="#6d8aa3" stroke-width="1" />
<text transform="translate(1257.0 643.0) rotate(0.03) scale(1 0.9)" font-size="10.4" fill="#000" text-anchor="middle" textLength="32.5" lengthAdjust="spacingAndGlyphs">1.0819</text>
<text x="764.3" y="449.8" font-size="12" font-weight="bold" fill="#555" text-anchor="start" textLength="148.8" lengthAdjust="spacingAndGlyphs" >Euro Fx/U.S. Dollar, D, FX</text>
<text x="893.8" y="494.0" font-size="13" font-weight="bold" fill="#000" text-anchor="start" textLength="123.5" lengthAdjust="spacingAndGlyphs" >Quasimodo cluster</text>
<text x="893.8" y="505.7" font-size="13" font-weight="bold" fill="#000" text-anchor="start" textLength="31.0" lengthAdjust="spacingAndGlyphs" >zone</text>
<text x="916.3" y="576.8" font-size="13" font-weight="bold" fill="#000" text-anchor="start" textLength="70.0" lengthAdjust="spacingAndGlyphs" >Swap area</text>
</g>
<clipPath id="a3"><rect x="1446" y="429" width="51" height="335"/></clipPath><g clip-path="url(#a3)">
<line x1="1446.00" y1="455.50" x2="1449.50" y2="455.50" stroke="#555555" stroke-width="1" />
<text x="1451.7" y="459.8" font-size="11" font-weight="normal" fill="#5a5a5a" text-anchor="start" textLength="38.1" lengthAdjust="spacingAndGlyphs" >1.15000</text>
<line x1="1446.00" y1="483.50" x2="1449.50" y2="483.50" stroke="#555555" stroke-width="1" />
<text x="1451.7" y="487.8" font-size="11" font-weight="normal" fill="#5a5a5a" text-anchor="start" textLength="38.1" lengthAdjust="spacingAndGlyphs" >1.14000</text>
<line x1="1446.00" y1="511.50" x2="1449.50" y2="511.50" stroke="#555555" stroke-width="1" />
<text x="1451.7" y="515.8" font-size="11" font-weight="normal" fill="#5a5a5a" text-anchor="start" textLength="38.1" lengthAdjust="spacingAndGlyphs" >1.13000</text>
<line x1="1446.00" y1="539.50" x2="1449.50" y2="539.50" stroke="#555555" stroke-width="1" />
<text x="1451.7" y="543.8" font-size="11" font-weight="normal" fill="#5a5a5a" text-anchor="start" textLength="38.1" lengthAdjust="spacingAndGlyphs" >1.12000</text>
<line x1="1446.00" y1="567.50" x2="1449.50" y2="567.50" stroke="#555555" stroke-width="1" />
<text x="1451.7" y="571.8" font-size="11" font-weight="normal" fill="#5a5a5a" text-anchor="start" textLength="38.1" lengthAdjust="spacingAndGlyphs" >1.11000</text>
<line x1="1446.00" y1="595.50" x2="1449.50" y2="595.50" stroke="#555555" stroke-width="1" />
<text x="1451.7" y="599.8" font-size="11" font-weight="normal" fill="#5a5a5a" text-anchor="start" textLength="38.1" lengthAdjust="spacingAndGlyphs" >1.10000</text>
<line x1="1446.00" y1="623.50" x2="1449.50" y2="623.50" stroke="#555555" stroke-width="1" />
<text x="1451.7" y="627.8" font-size="11" font-weight="normal" fill="#5a5a5a" text-anchor="start" textLength="38.1" lengthAdjust="spacingAndGlyphs" >1.09000</text>
<line x1="1446.00" y1="651.50" x2="1449.50" y2="651.50" stroke="#555555" stroke-width="1" />
<text x="1451.7" y="655.8" font-size="11" font-weight="normal" fill="#5a5a5a" text-anchor="start" textLength="38.1" lengthAdjust="spacingAndGlyphs" >1.08000</text>
<line x1="1446.00" y1="679.50" x2="1449.50" y2="679.50" stroke="#555555" stroke-width="1" />
<text x="1451.7" y="683.8" font-size="11" font-weight="normal" fill="#5a5a5a" text-anchor="start" textLength="38.1" lengthAdjust="spacingAndGlyphs" >1.07000</text>
<line x1="1446.00" y1="707.50" x2="1449.50" y2="707.50" stroke="#555555" stroke-width="1" />
<text x="1451.7" y="711.8" font-size="11" font-weight="normal" fill="#5a5a5a" text-anchor="start" textLength="38.1" lengthAdjust="spacingAndGlyphs" >1.06000</text>
</g>
<rect x="1445.50" y="485.00" width="49.50" height="16.00" fill="#0000ff" />
<line x1="1446.00" y1="493.00" x2="1449.50" y2="493.00" stroke="#fff" stroke-width="1" />
<text x="1452.0" y="497.2" font-size="11" font-weight="bold" fill="#fff" text-anchor="start" textLength="38.5" lengthAdjust="spacingAndGlyphs" >1.13659</text>
<g clip-path="url(#t3)">
<line x1="760.00" y1="765.00" x2="760.00" y2="768.00" stroke="#555555" stroke-width="1" />
<text x="760.0" y="778.2" font-size="11" font-weight="bold" fill="#555" text-anchor="middle" >Feb</text>
<line x1="852.60" y1="765.00" x2="852.60" y2="768.00" stroke="#555555" stroke-width="1" />
<text x="852.6" y="778.2" font-size="11" font-weight="bold" fill="#555" text-anchor="middle" >Mar</text>
<line x1="952.50" y1="765.00" x2="952.50" y2="768.00" stroke="#555555" stroke-width="1" />
<text x="952.5" y="778.2" font-size="11" font-weight="bold" fill="#555" text-anchor="middle" >Apr</text>
<line x1="1053.40" y1="765.00" x2="1053.40" y2="768.00" stroke="#555555" stroke-width="1" />
<text x="1053.4" y="778.2" font-size="11" font-weight="bold" fill="#555" text-anchor="middle" >May</text>
<line x1="1149.50" y1="765.00" x2="1149.50" y2="768.00" stroke="#555555" stroke-width="1" />
<text x="1149.5" y="778.2" font-size="11" font-weight="bold" fill="#555" text-anchor="middle" >Jun</text>
<line x1="1249.40" y1="765.00" x2="1249.40" y2="768.00" stroke="#555555" stroke-width="1" />
<text x="1249.4" y="778.2" font-size="11" font-weight="bold" fill="#555" text-anchor="middle" >Jul</text>
<line x1="1355.50" y1="765.00" x2="1355.50" y2="768.00" stroke="#555555" stroke-width="1" />
<text x="1355.5" y="778.2" font-size="11" font-weight="bold" fill="#555" text-anchor="middle" >Aug</text>
<line x1="1432.10" y1="765.00" x2="1432.10" y2="768.00" stroke="#555555" stroke-width="1" />
<text x="1432.1" y="778.2" font-size="11" font-weight="normal" fill="#555" text-anchor="middle" >26</text>
</g>
</svg></body></html>
